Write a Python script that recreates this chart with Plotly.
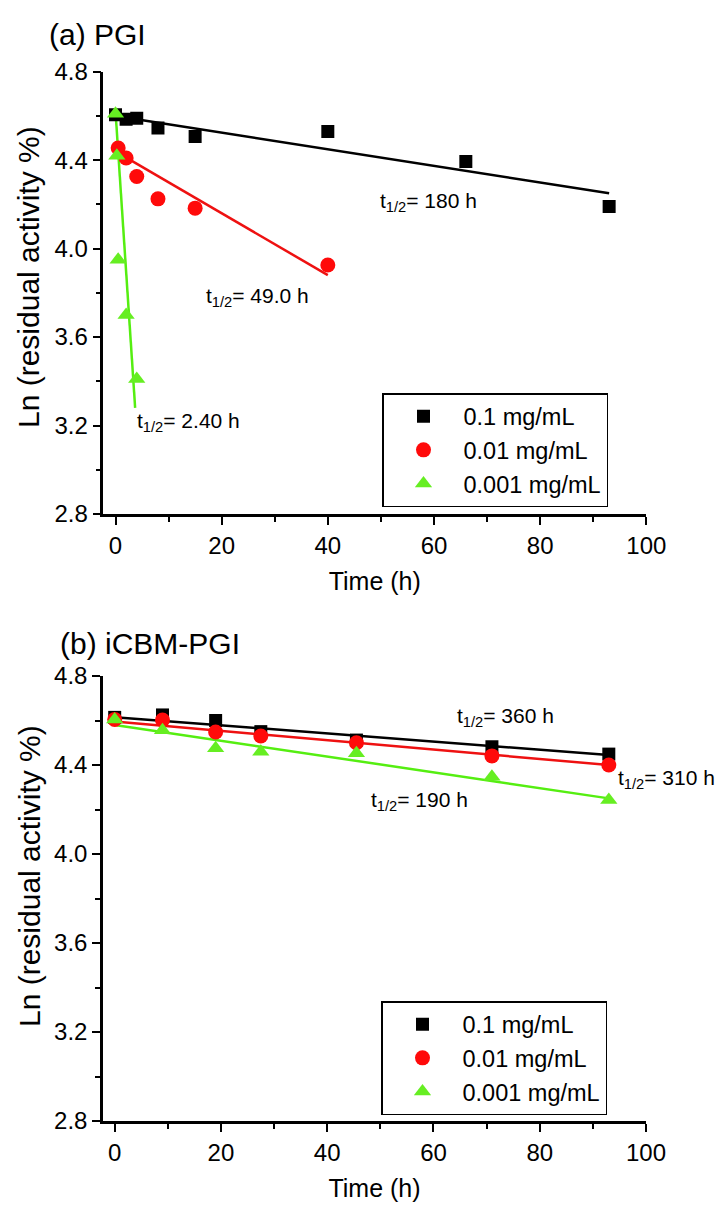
import plotly.graph_objects as go

# ---------------- data ----------------
# (a) PGI
a_x_01 = [0, 2, 4, 8, 15, 40, 66, 93]
a_y_01 = [4.605, 4.585, 4.59, 4.545, 4.507, 4.53, 4.394, 4.19]
a_x_001 = [0.5, 2, 4, 8, 15, 40]
a_y_001 = [4.455, 4.41, 4.326, 4.225, 4.183, 3.926]
a_x_0001 = [0, 0.25, 0.5, 2, 4]
a_y_0001 = [4.61, 4.42, 3.95, 3.70, 3.41]
a_fit_x_01 = [0, 93]
a_fit_y_01 = [4.60, 4.25]
a_fit_x_001 = [0, 40]
a_fit_y_001 = [4.44, 3.88]
a_fit_x_0001 = [0, 3.7]
a_fit_y_0001 = [4.62, 3.28]

# (b) iCBM-PGI
b_x = [0, 9, 19, 27.5, 45.5, 71, 93]
b_y_01 = [4.614, 4.625, 4.60, 4.55, 4.512, 4.482, 4.449]
b_y_001 = [4.605, 4.602, 4.548, 4.53, 4.50, 4.441, 4.40]
b_y_0001 = [4.605, 4.556, 4.475, 4.46, 4.453, 4.347, 4.243]
b_fit_x = [0, 93]
b_fit_y_01 = [4.615, 4.445]
b_fit_y_001 = [4.595, 4.40]
b_fit_y_0001 = [4.58, 4.25]

labels = ["0.1 mg/mL", "0.01 mg/mL", "0.001 mg/mL"]
colors = ["#000000", "#ff0a0a", "#66ee22"]
line_colors = ["#000000", "#ee1111", "#55ee11"]
symbols = ["square", "circle", "triangle-up"]
sizes = [13, 15, 15]

FONT = "Liberation Sans, Arial, sans-serif"

# the page body has an 8 px margin: the figure is drawn 8 px smaller and offset
W, H, OFF = 718, 1200, 8
def PX(px):
    return (px - OFF) / W
def PY(py):
    return 1 - (py - OFF) / H

fig = go.Figure()

def add_panel(xs, ys, fxs, fys, xa, ya, legend):
    for i in range(3):
        fig.add_trace(go.Scatter(x=fxs[i], y=fys[i], mode="lines",
                                 line=dict(color=line_colors[i], width=2.5),
                                 showlegend=False, hoverinfo="skip",
                                 xaxis=xa, yaxis=ya))
    for i in range(3):
        fig.add_trace(go.Scatter(x=xs[i], y=ys[i], mode="markers", name=labels[i],
                                 marker=dict(symbol=symbols[i], size=sizes[i], color=colors[i]),
                                 xaxis=xa, yaxis=ya, legend=legend))

add_panel([a_x_01, a_x_001, a_x_0001], [a_y_01, a_y_001, a_y_0001],
          [a_fit_x_01, a_fit_x_001, a_fit_x_0001], [a_fit_y_01, a_fit_y_001, a_fit_y_0001],
          "x", "y", "legend")
add_panel([b_x, b_x, b_x], [b_y_01, b_y_001, b_y_0001],
          [b_fit_x, b_fit_x, b_fit_x], [b_fit_y_01, b_fit_y_001, b_fit_y_0001],
          "x2", "y2", "legend2")

xaxis_common = dict(dtick=20, tick0=0, showline=True, linecolor="black",
                    linewidth=2.5, ticks="outside", ticklen=8, tickwidth=2, tickcolor="black",
                    showgrid=False, zeroline=False, automargin=False,
                    tickfont=dict(size=24, color="black"),
                    minor=dict(dtick=10, ticks="outside", ticklen=5, tickwidth=2, tickcolor="black", showgrid=False),
                    title=dict(text="Time (h)", font=dict(size=25, color="black"), standoff=15))
yaxis_common = dict(range=[2.8, 4.8], dtick=0.4, tick0=2.8, tickformat=".1f", showline=True,
                    linecolor="black", linewidth=2.5, ticks="outside", ticklen=8, tickwidth=2,
                    tickcolor="black", showgrid=False, zeroline=False, automargin=False,
                    tickfont=dict(size=24, color="black"),
                    minor=dict(dtick=0.2, ticks="outside", ticklen=5, tickwidth=2, tickcolor="black", showgrid=False))

legend_common = dict(bgcolor="white", bordercolor="black", borderwidth=1.5,
                     font=dict(size=23.5, color="black", family=FONT),
                     xanchor="left", yanchor="top", traceorder="normal",
                     itemwidth=70)

def sub(v):
    return "t<sub>1/2</sub>= " + v

ann_font = dict(size=21, color="black", family=FONT)
title_font = dict(size=30, color="black", family=FONT)
ytitle_font = dict(size=30, color="black", family=FONT)
annotations = [
    dict(text="(a) PGI", xref="paper", yref="paper", x=PX(47), y=PY(34),
         xanchor="left", yanchor="middle", showarrow=False, font=title_font),
    dict(text="(b) iCBM-PGI", xref="paper", yref="paper", x=PX(58), y=PY(643),
         xanchor="left", yanchor="middle", showarrow=False, font=title_font),
    dict(text="Ln (residual activity %)", xref="paper", yref="paper", x=PX(29), y=PY(277),
         xanchor="center", yanchor="middle", textangle=-90, showarrow=False, font=ytitle_font),
    dict(text="Ln (residual activity %)", xref="paper", yref="paper", x=PX(29), y=PY(876),
         xanchor="center", yanchor="middle", textangle=-90, showarrow=False, font=ytitle_font),
    dict(text=sub("180 h"), xref="x", yref="y", x=49.4, y=4.21, xanchor="left", yanchor="middle",
         showarrow=False, font=ann_font),
    dict(text=sub("49.0 h"), xref="x", yref="y", x=16.7, y=3.78, xanchor="left", yanchor="middle",
         showarrow=False, font=ann_font),
    dict(text=sub("2.40 h"), xref="x", yref="y", x=3.7, y=3.215, xanchor="left", yanchor="middle",
         showarrow=False, font=ann_font),
    dict(text=sub("360 h"), xref="x2", yref="y2", x=64, y=4.615, xanchor="left", yanchor="middle",
         showarrow=False, font=ann_font),
    dict(text=sub("310 h"), xref="x2", yref="y2", x=94.4, y=4.337, xanchor="left", yanchor="middle",
         showarrow=False, font=ann_font),
    dict(text=sub("190 h"), xref="x2", yref="y2", x=47.8, y=4.24, xanchor="left", yanchor="middle",
         showarrow=False, font=ann_font),
]

fig.update_layout(
    width=W, height=H,
    margin=dict(l=0, r=0, t=0, b=0),
    paper_bgcolor="white", plot_bgcolor="white",
    font=dict(family=FONT, color="black", size=24),
    xaxis=dict(domain=[PX(103.3), PX(646.3)], range=[-2.3, 100], anchor="y", **xaxis_common),
    yaxis=dict(domain=[PY(514), PY(71.7)], anchor="x", **yaxis_common),
    xaxis2=dict(domain=[PX(103), PX(646)], range=[-2.2, 100], anchor="y2", **xaxis_common),
    yaxis2=dict(domain=[PY(1121), PY(676)], anchor="x2", **yaxis_common),
    legend=dict(x=PX(382), y=PY(393), **legend_common),
    legend2=dict(x=PX(381), y=PY(1001), **legend_common),
    annotations=annotations,
)

fig.write_html("out.html")
